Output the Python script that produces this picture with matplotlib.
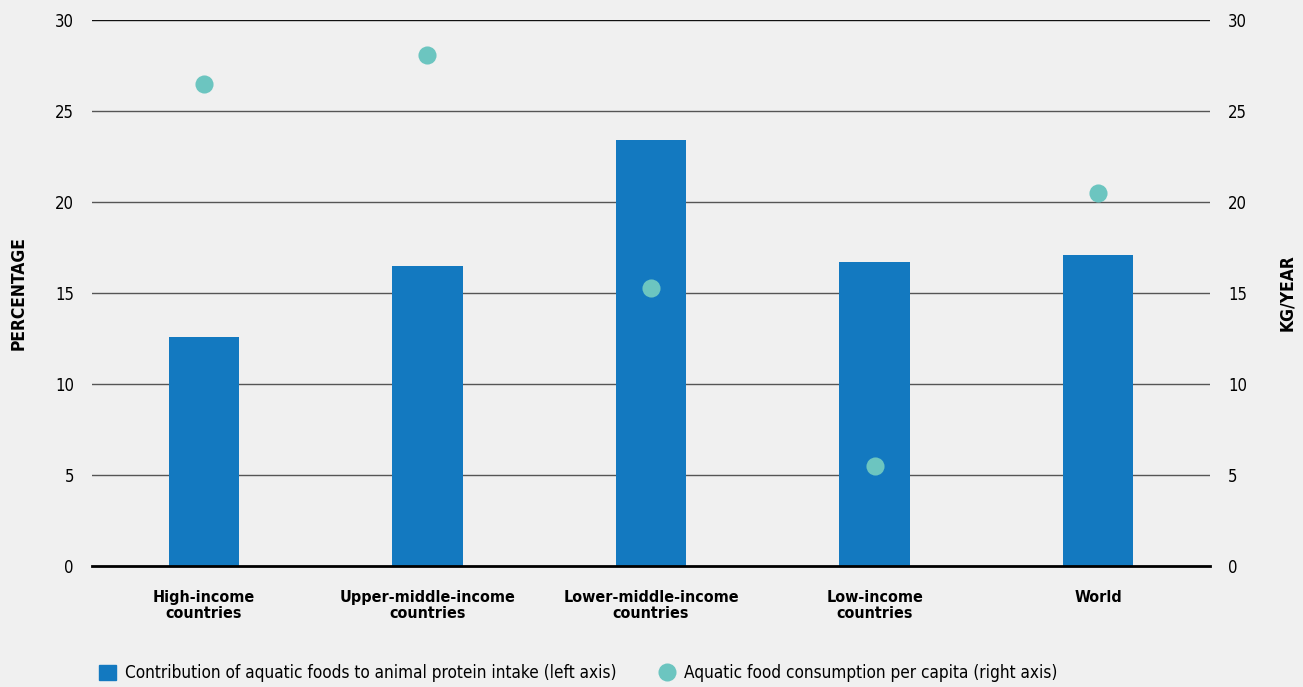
import numpy as np
import matplotlib
matplotlib.use("Agg")
import matplotlib.pyplot as plt
from matplotlib.lines import Line2D
from matplotlib.patches import Patch

plt.rcParams['font.family'] = ['DejaVu Sans']
plt.rcParams['font.stretch'] = 'condensed'

categories = ['High-income\ncountries', 'Upper-middle-income\ncountries',
              'Lower-middle-income\ncountries', 'Low-income\ncountries', 'World']
protein_share = [12.6, 16.5, 23.4, 16.7, 17.1]      # % (left axis)
consumption = [26.5, 28.1, 15.3, 5.5, 20.5]         # kg/year (right axis)
yticks = [0, 5, 10, 15, 20, 25, 30]

bg = '#f0f0f0'
bar_col = '#1379c0'
dot_col = '#6cc5c0'

fig = plt.figure(figsize=(13.03, 6.87), dpi=100, facecolor=bg)
ax = fig.add_axes([92/1303, 1-566/687, (1210-92)/1303, (566-20)/687])
ax.set_facecolor(bg)
x = np.arange(len(categories))

ax.bar(x, protein_share, width=0.315, color=bar_col, zorder=3)
ax.set_xlim(-0.5, 4.5)
ax.set_ylim(0, 30)
ax.set_yticks(yticks)
for t in yticks:
    if t == 0:
        continue
    ax.axhline(t, color='#555555' if t < 30 else '#111111', lw=1, zorder=1)
ax.axhline(0, color='black', lw=2, zorder=4, clip_on=False)
for s in ax.spines.values():
    s.set_visible(False)
ax.tick_params(axis='y', length=0, pad=13, labelsize=12)
ax.tick_params(axis='x', length=0, pad=17, labelsize=11.5)
ax.set_xticks(x)
ax.set_xticklabels(categories, fontweight='bold', linespacing=1.15)
ax.set_ylabel('PERCENTAGE', fontweight='bold', fontsize=12.5)
ax.yaxis.set_label_coords(-0.058, 0.5)

ax2 = ax.twinx()
ax2.set_ylim(0, 30)
ax2.set_yticks(yticks)
for s in ax2.spines.values():
    s.set_visible(False)
ax2.tick_params(axis='y', length=0, pad=13, labelsize=12)
ax2.scatter(x, consumption, s=170, color=dot_col, zorder=5, linewidths=0)
ax2.set_ylabel('KG/YEAR', fontweight='bold', fontsize=12.5)
ax2.yaxis.set_label_coords(1.061, 0.5)

fig.legend([Patch(color=bar_col)],
           ['Contribution of aquatic foods to animal protein intake (left axis)'],
           loc='center left', bbox_to_anchor=(84/1303, 1-673/687), frameon=False,
           fontsize=12.3, handlelength=1.0, handleheight=1.0, handletextpad=0.5)
fig.legend([Line2D([], [], marker='o', ls='', color=dot_col, markersize=13, markeredgewidth=0)],
           ['Aquatic food consumption per capita (right axis)'],
           loc='center left', bbox_to_anchor=(643/1303, 1-673/687), frameon=False,
           fontsize=12.3, handlelength=1.0, handletextpad=0.5)

fig.savefig('out.png', dpi=100, facecolor=bg)
